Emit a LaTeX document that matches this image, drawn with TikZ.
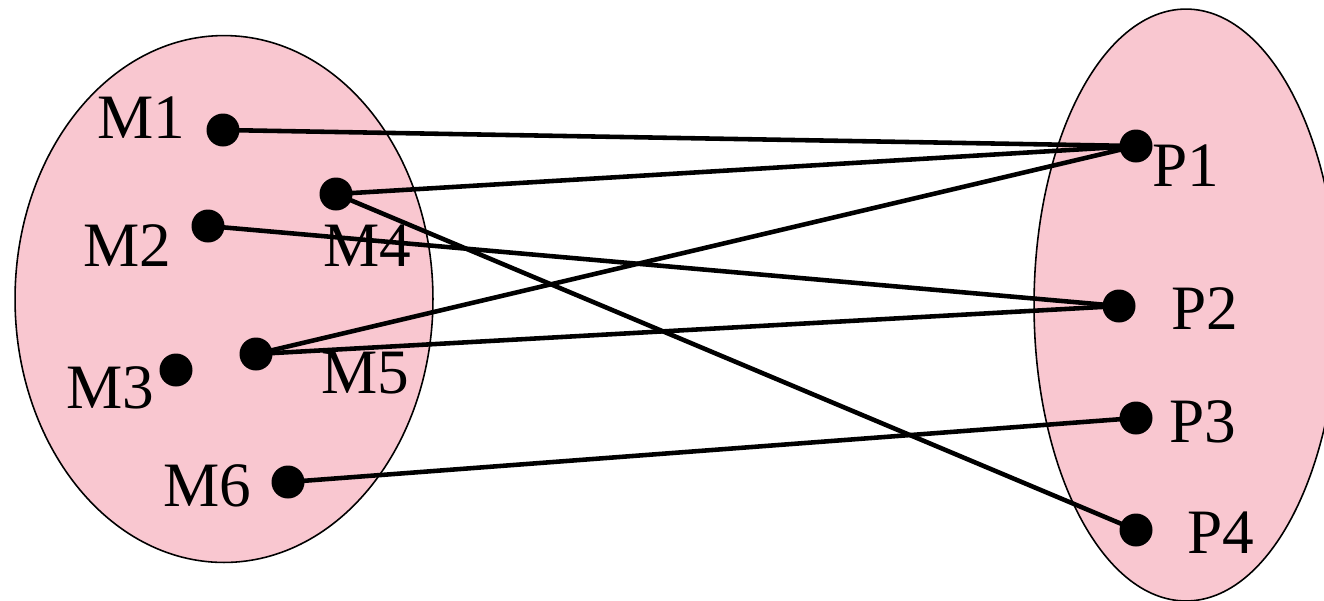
\documentclass[tikz,border=0pt]{standalone}
\usepackage{fontspec}
\setmainfont{Liberation Serif}
\definecolor{setpink}{RGB}{249,199,208}
\begin{document}
\begin{tikzpicture}[x=0.02cm,y=-0.02cm,
  setshape/.style={fill=setpink,draw=black,line width=0.9pt},
  dotnode/.style={circle,fill=black,inner sep=0pt,minimum size=0.66cm},
  lbl/.style={anchor=base,inner sep=0pt,font=\fontsize{36}{40}\selectfont},
  link/.style={line width=2.6pt,draw=black}]
\useasboundingbox (0,0) rectangle (1324,600);
\fill[white] (0,0) rectangle (1324,600);
\path[setshape] (224,299) ellipse [x radius=4.18cm, y radius=5.27cm];
\path[setshape] (1186,305) ellipse [x radius=3.04cm, y radius=5.92cm];
% dots
\node[dotnode] (m1) at (223,130) {};
\node[dotnode] (m2) at (208,226) {};
\node[dotnode] (m3) at (176,370) {};
\node[dotnode] (m4) at (336,194) {};
\node[dotnode] (m5) at (256,354) {};
\node[dotnode] (m6) at (288,482) {};
\node[dotnode] (p1) at (1136,146) {};
\node[dotnode] (p2) at (1119,306) {};
\node[dotnode] (p3) at (1136,418) {};
\node[dotnode] (p4) at (1136,530) {};
% connectors
\draw[link] (m1.center) -- (p1.center);
\draw[link] (m4.center) -- (p1.center);
\draw[link] (m5.center) -- (p1.center);
\draw[link] (m2.center) -- (p2.center);
\draw[link] (m5.center) -- (p2.center);
\draw[link] (m6.center) -- (p3.center);
\draw[link] (m4.center) -- (p4.center);
% labels
\node[lbl] (lm1) at (141,138) {M1};
\node[lbl] (lm2) at (127,266) {M2};
\node[lbl] (lm3) at (110,408) {M3};
\node[lbl] (lm4) at (367,266) {M4};
\node[lbl] (lm5) at (365,393) {M5};
\node[lbl] (lm6) at (207,506) {M6};
\node[lbl] (lp1) at (1186,186) {P1};
\node[lbl] (lp2) at (1205,329) {P2};
\node[lbl] (lp3) at (1203,442) {P3};
\node[lbl] (lp4) at (1221,553) {P4};
\end{tikzpicture}
\end{document}
